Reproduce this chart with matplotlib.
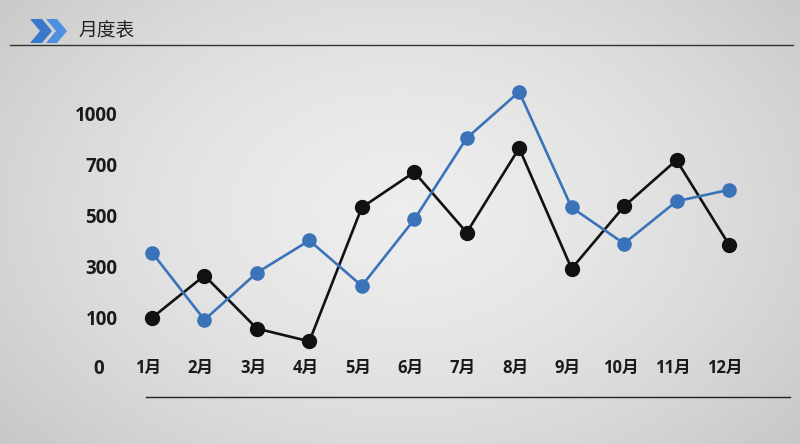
import numpy as np
import matplotlib
matplotlib.use("Agg")
import matplotlib.pyplot as plt
from matplotlib.patches import Polygon
from matplotlib.lines import Line2D
import matplotlib.transforms as mtransforms

plt.rcParams['font.family'] = ['Noto Sans CJK SC', 'DejaVu Sans']
LABEL_FONT = ['Open Sans', 'Noto Sans CJK SC', 'DejaVu Sans']

title = "月度表"
months = ["1月", "2月", "3月", "4月", "5月", "6月", "7月", "8月", "9月", "10月", "11月", "12月"]
black_values = [100, 265, 79, 54, 531, 669, 433, 794, 292, 535, 724, 386]
blue_values = [355, 96, 276, 402, 225, 484, 853, 1124, 531, 390, 555, 600]
y_ticks = [0, 100, 300, 500, 700, 1000]

W, H = 800, 444
fig = plt.figure(figsize=(W / 100, H / 100), dpi=100)

# background radial gradient
bg = fig.add_axes([0, 0, 1, 1], zorder=-10)
yy, xx = np.mgrid[0:H, 0:W]
r = np.sqrt(((xx - 400) / 480.0) ** 2 + ((yy - 210) / 330.0) ** 2)
g = 0.93 - 0.13 * np.clip(r, 0, 1.2) ** 1.6
bg.imshow(np.dstack([g, g, g]), extent=[0, W, H, 0], aspect='auto')
bg.set_xlim(0, W)
bg.set_ylim(H, 0)
bg.axis('off')

def fx(px):
    return px / W

def fy(py):
    return 1 - py / H

# header chevrons
chev1 = [(30, 19), (42, 19), (52, 31), (42, 43), (30, 43), (40, 31)]
chev2 = [(46, 19), (57, 19), (67, 31), (57, 43), (46, 43), (56, 31)]
for pts, col in [(chev1, '#3a78cc'), (chev2, '#4d90e0')]:
    fig.patches.append(Polygon([(fx(a), fy(b)) for a, b in pts], closed=True,
                               transform=fig.transFigure, facecolor=col, edgecolor='none'))
fig.text(fx(78), fy(31), title, fontsize=13.5, color='#222222', va='center', ha='left')
fig.lines.append(Line2D([fx(10), fx(793)], [fy(45), fy(45)], transform=fig.transFigure,
                        color='#333333', lw=1.0))
fig.lines.append(Line2D([fx(146), fx(790)], [fy(397), fy(397)], transform=fig.transFigure,
                        color='#222222', lw=1.0))

# piecewise-linear y scale
tick_pos = np.arange(len(y_ticks), dtype=float)
tv = np.array(y_ticks, dtype=float)

def forward(v):
    v = np.asarray(v, dtype=float)
    out = np.interp(v, tv, tick_pos)
    out = np.where(v > tv[-1], tick_pos[-1] + (v - tv[-1]) / (tv[-1] - tv[-2]), out)
    out = np.where(v < tv[0], (v - tv[0]) / (tv[1] - tv[0]), out)
    return out

def inverse(u):
    u = np.asarray(u, dtype=float)
    out = np.interp(u, tick_pos, tv)
    out = np.where(u > tick_pos[-1], tv[-1] + (u - tick_pos[-1]) * (tv[-1] - tv[-2]), out)
    out = np.where(u < tick_pos[0], tv[0] + u * (tv[1] - tv[0]), out)
    return out

# axes placement
left_px, right_px, top_px, bot_px = 130, 790, 60, 380
ax = fig.add_axes([fx(left_px), fy(bot_px), (right_px - left_px) / W, (bot_px - top_px) / H])
ax.patch.set_alpha(0)
ax.set_yscale('function', functions=(forward, inverse))

x0_px, step_px = 152, 52.45
ax.set_xlim((left_px - x0_px) / step_px, (right_px - x0_px) / step_px)
u_step = 51.2
u_bot = (369 - bot_px) / u_step
u_top = (369 - top_px) / u_step
ax.set_ylim(float(inverse(u_bot)), float(inverse(u_top)))

x = np.arange(len(months))
ax.plot(x, black_values, color='#111111', lw=1.9, marker='o', markersize=10, zorder=3, clip_on=False)
ax.plot(x, blue_values, color='#3b73b9', lw=1.9, marker='o', markersize=9.5, zorder=4, clip_on=False)

ax.set_yticks(y_ticks)
ax.set_yticklabels(['' if v == 0 else str(v) for v in y_ticks], fontsize=13.5,
                   fontweight='bold', color='#1a1a1a', family=LABEL_FONT)
ax.tick_params(axis='y', length=0, pad=9)
# "0" sits further left than the other labels
zero_tr = mtransforms.blended_transform_factory(fig.transFigure, ax.transData)
ax.text(fx(104), 0, str(y_ticks[0]), transform=zero_tr, ha='right', va='center',
        fontsize=13.5, fontweight='bold', color='#1a1a1a', family=LABEL_FONT)
ax.set_xticks([])
for i, m in enumerate(months):
    ax.text(i - 0.07, 3, m, ha='center', va='center', fontsize=12, fontweight='bold',
            color='#1a1a1a', family=LABEL_FONT)
for s in ax.spines.values():
    s.set_visible(False)

fig.savefig('out.png', dpi=100)
